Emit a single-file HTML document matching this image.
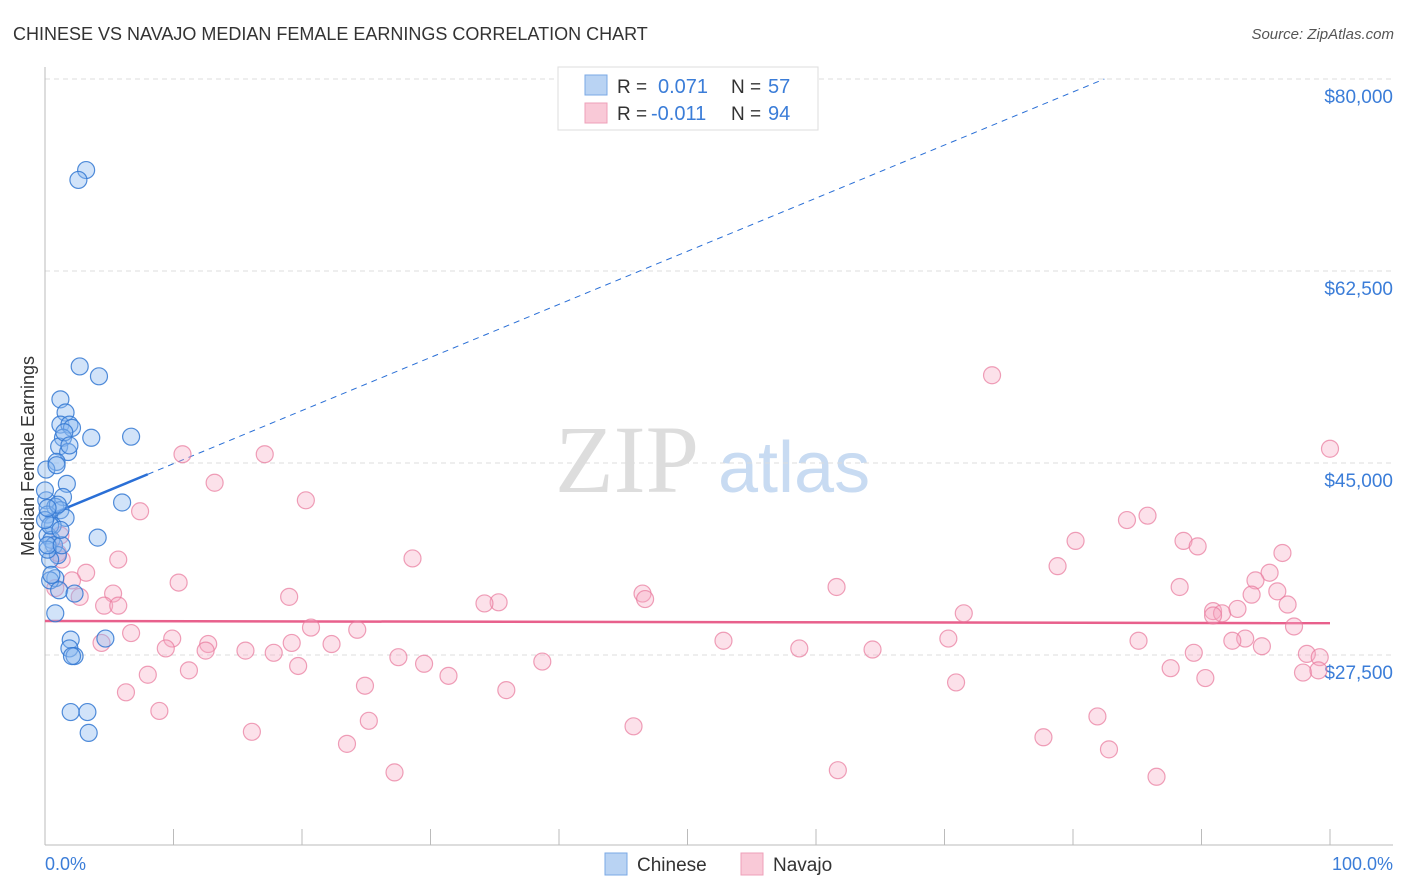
<!DOCTYPE html>
<html><head><meta charset="utf-8"><style>
body{margin:0;width:1406px;height:892px;background:#fff;overflow:hidden;font-family:"Liberation Sans",sans-serif}
svg{position:absolute;left:0;top:0}
</style></head><body>
<svg id="chart" width="1406" height="892">
<text x="13" y="40" font-size="18" fill="#333">CHINESE VS NAVAJO MEDIAN FEMALE EARNINGS CORRELATION CHART</text>
<text x="1394" y="39" font-size="15" fill="#555" font-style="italic" text-anchor="end">Source: ZipAtlas.com</text>
<text x="555" y="492" font-size="96" fill="#ddd" font-family="Liberation Serif,serif">ZIP</text>
<text x="718" y="492" font-size="72" fill="#c8dbf2">atlas</text>
<g id="grid"></g>
<g id="axes"></g>
<g id="lines"></g>
<g id="pts"></g>
<text transform="translate(34,456) rotate(-90)" font-size="18" fill="#333" text-anchor="middle">Median Female Earnings</text>
<text x="45" y="870" font-size="18" fill="#3b7dd8">0.0%</text>
<text x="1393" y="870" font-size="18" fill="#3b7dd8" text-anchor="end">100.0%</text>
<g>
<rect x="558" y="67" width="260" height="63" fill="#fff" stroke="#ddd"/>
<rect x="585" y="75" width="22" height="20" fill="#b9d3f3" stroke="#7aa8e6"/>
<rect x="585" y="103" width="22" height="20" fill="#f9c9d7" stroke="#eea0b8"/>
<text x="617" y="93" font-size="19" fill="#333">R = </text><text x="658" y="93" font-size="20" fill="#3b7dd8">0.071</text>
<text x="731" y="93" font-size="19" fill="#333">N = </text><text x="768" y="93" font-size="20" fill="#3b7dd8">57</text>
<text x="617" y="120" font-size="19" fill="#333">R = </text><text x="651" y="120" font-size="20" fill="#3b7dd8">-0.011</text>
<text x="731" y="120" font-size="19" fill="#333">N = </text><text x="768" y="120" font-size="20" fill="#3b7dd8">94</text>
</g>
<g>
<rect x="605" y="853" width="22" height="22" fill="#b9d3f3" stroke="#7aa8e6"/>
<text x="637" y="871" font-size="19" fill="#333">Chinese</text>
<rect x="741" y="853" width="22" height="22" fill="#f9c9d7" stroke="#eea0b8"/>
<text x="773" y="871" font-size="19" fill="#333">Navajo</text>
</g>
</svg>
<script>
const yTicks=[80000,62500,45000,27500];
const yTickLabels=["$80,000","$62,500","$45,000","$27,500"];
const chineseX=[3.2,2.6,2.7,4.2,1.2,1.6,1.2,1.9,2.1,1.4,3.6,6.7,1.1,1.8,0.9,0.1,1.7,1.4,6.0,0.1,0.8,1.2,0.2,1.6,0.6,4.1,0.2,0.5,0.7,1.0,0.4,0.8,0.4,1.1,2.3,0.8,2.0,1.9,4.7,2.3,2.1,2.0,3.3,3.4,0.2,0.4,0.2,1.3,0.0,1.0,0.5,0.2,1.2,0.0,0.9,1.5,1.9];
const chineseY=[71.7,70.8,53.8,52.9,50.8,49.6,48.5,48.5,48.2,47.3,47.3,47.4,46.5,46.0,45.1,44.4,43.1,41.9,41.4,41.6,41.0,40.7,40.3,40.0,39.3,38.2,38.4,38.0,37.5,36.6,36.2,34.5,34.3,33.4,33.1,31.3,28.9,28.1,29.0,27.4,27.4,22.3,22.3,20.4,37.1,39.3,37.5,37.5,39.8,41.2,34.8,40.9,38.9,42.5,44.8,47.8,46.6];
const navajoX=[10.7,17.1,13.2,20.3,7.4,73.7,100,84.2,85.8,80.2,78.8,88.6,89.7,96.3,95.3,94.2,88.3,93.9,95.9,96.7,90.9,91.6,92.8,90.9,97.2,93.4,92.4,94.7,85.1,89.4,87.6,90.3,98.2,99.2,97.9,99.1,81.9,77.7,82.8,86.5,70.3,70.9,71.5,61.6,64.4,61.7,58.7,52.8,46.5,46.7,45.8,38.7,35.9,35.3,34.2,31.4,29.5,27.5,27.2,28.6,25.2,24.9,23.5,24.3,22.3,20.7,19.7,19.2,19.0,17.8,15.6,16.1,12.7,12.5,11.2,10.4,9.9,9.4,8.0,8.9,6.7,6.3,5.7,5.3,4.6,4.4,3.2,2.7,2.1,1.3,1.0,0.8,5.7,1.2];
const navajoY=[45.8,45.8,43.2,41.6,40.6,53.0,46.3,39.8,40.2,37.9,35.6,37.9,37.4,36.8,35.0,34.3,33.7,33.0,33.3,32.1,31.5,31.3,31.7,31.1,30.1,29.0,28.8,28.3,28.8,27.7,26.3,25.4,27.6,27.3,25.9,26.1,21.9,20.0,18.9,16.4,29.0,25.0,31.3,33.7,28.0,17.0,28.1,28.8,33.1,32.6,21.0,26.9,24.3,32.3,32.2,25.6,26.7,27.3,16.8,36.3,21.5,24.7,19.4,29.8,28.5,30.0,26.5,28.6,32.8,27.7,27.9,20.5,28.5,27.9,26.1,34.1,29.0,28.1,25.7,22.4,29.5,24.1,36.2,33.1,32.0,28.6,35.0,32.8,34.3,36.2,36.8,33.6,32.0,38.4];
const chineseTrend=[40.1,0.484]; // intercept (k$), slope per %
const navajoTrend=[30.6,-0.002];
const sx=p=>45+p*12.85;
const sy=k=>79+(80-k)*1000*192/17500;
const NS='http://www.w3.org/2000/svg';
function mk(t,a,parent){const e=document.createElementNS(NS,t);for(const k in a)e.setAttribute(k,a[k]);parent.appendChild(e);return e;}
const grid=document.getElementById('grid'),axes=document.getElementById('axes'),lines=document.getElementById('lines'),pts=document.getElementById('pts');
yTicks.forEach((v,i)=>{
  const y=sy(v/1000);
  const g=mk('line',{x1:45,x2:1393,y1:y,y2:y,stroke:'#ddd','stroke-dasharray':'5,4'},grid);
  
  
  const t=mk('text',{x:1393,y:y+24,'font-size':19,fill:'#3b7dd8','text-anchor':'end'},grid);
  t.textContent=yTickLabels[i];
  
  
});
const ax=mk('line',{x1:45,x2:45,y1:67,y2:845,stroke:'#bbb'},axes);


const bx=mk('line',{x1:45,x2:1393,y1:845,y2:845,stroke:'#bbb'},axes);


for(let i=1;i<=10;i++){const x=sx(i*10);const tk=mk('line',{x1:x,x2:x,y1:829,y2:845,stroke:'#bbb'},axes);

}
function drawPts(X,Y,fill,stroke,name){X.forEach((x,i)=>{const c=mk('circle',{cx:sx(x),cy:sy(Y[i]),r:8.5,fill:fill,stroke:stroke,'stroke-width':1.2},pts);

});}
drawPts(navajoX,navajoY,'rgba(246,170,195,0.35)','rgba(232,120,155,0.7)','navajo-point');
drawPts(chineseX,chineseY,'rgba(140,185,240,0.4)','rgba(50,120,210,0.85)','chinese-point');
const cEnd=(80-chineseTrend[0])/chineseTrend[1];
const l1=mk('line',{x1:sx(0),y1:sy(chineseTrend[0]),x2:sx(8),y2:sy(chineseTrend[0]+8*chineseTrend[1]),stroke:'#2a6fd6','stroke-width':2.5},lines);


const l2=mk('line',{x1:sx(8),y1:sy(chineseTrend[0]+8*chineseTrend[1]),x2:sx(cEnd),y2:sy(80),stroke:'#2a6fd6','stroke-width':1,'stroke-dasharray':'6,5'},lines);


const l3=mk('line',{x1:sx(0),y1:sy(navajoTrend[0]),x2:sx(100),y2:sy(navajoTrend[0]+100*navajoTrend[1]),stroke:'#e8608c','stroke-width':2.5},lines);


</script>
</body></html>
